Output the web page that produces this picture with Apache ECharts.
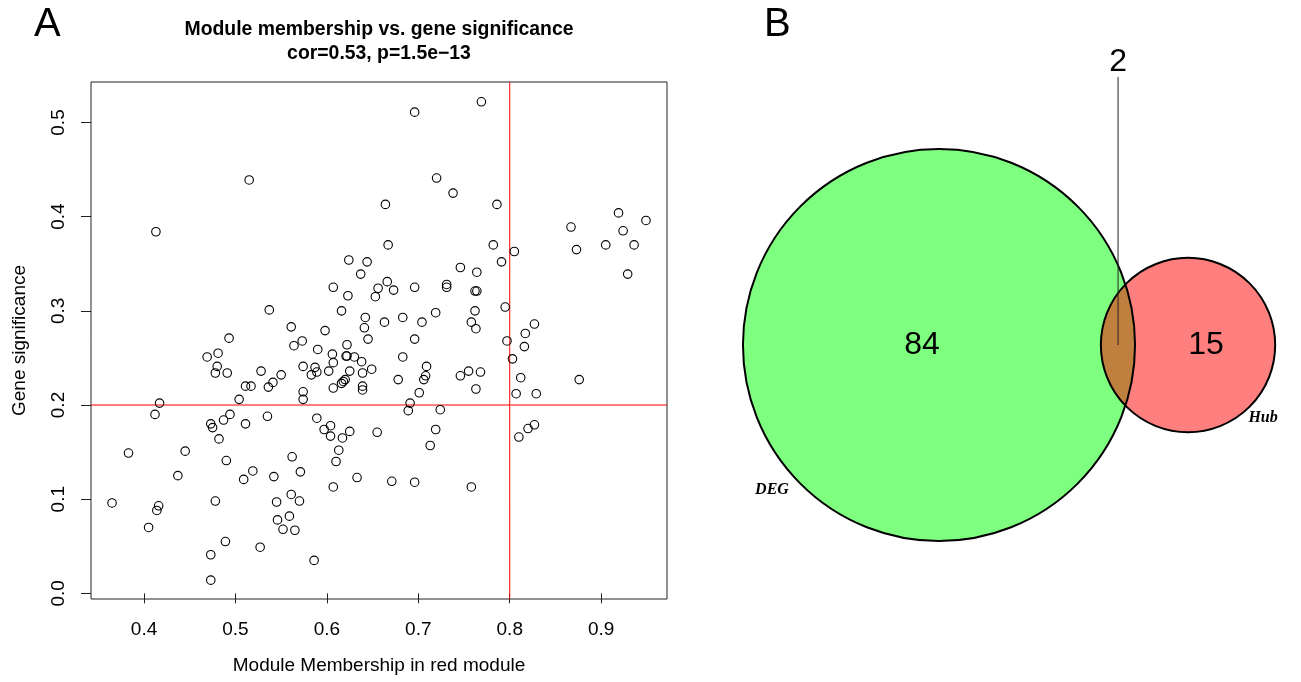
<!DOCTYPE html>
<html>
<head>
<meta charset="utf-8">
<script src="https://cdn.jsdelivr.net/npm/echarts@6/dist/echarts.min.js"></script>
<style>
  html, body { margin: 0; padding: 0; background: #fff; }
  #main { width: 1301px; height: 682px; }
</style>
</head>
<body>
<div id="main"></div>
<script>
// module membership (x) and gene significance (y) of each gene
var mm = [0.515,0.413,0.537,0.561,0.493,0.769,0.696,0.720,0.738,0.664,
          0.667,0.624,0.644,0.637,0.746,0.764,0.607,0.623,0.656,0.653,
          0.666,0.673,0.696,0.731,0.731,0.762,0.764,0.616,0.642,0.641,
          0.663,0.683,0.704,0.719,0.762,0.758,0.763,0.598,0.573,0.645,
          0.696,0.786,0.867,0.919,0.949,0.924,0.782,0.805,0.791,0.873,
          0.905,0.936,0.929,0.795,0.827,0.817,0.797,0.469,0.481,0.480,
          0.478,0.491,0.528,0.550,0.511,0.517,0.536,0.541,0.504,0.417,
          0.412,0.473,0.475,0.487,0.494,0.511,0.535,0.482,0.383,0.445,
          0.490,0.437,0.519,0.509,0.542,0.365,0.416,0.414,0.478,0.545,
          0.405,0.546,0.552,0.489,0.527,0.473,0.473,0.559,0.561,0.562,
          0.564,0.590,0.606,0.622,0.621,0.622,0.630,0.607,0.638,0.683,
          0.574,0.587,0.589,0.583,0.602,0.625,0.639,0.649,0.709,0.708,
          0.706,0.746,0.755,0.768,0.678,0.620,0.618,0.616,0.607,0.639,
          0.639,0.701,0.763,0.574,0.574,0.691,0.689,0.724,0.589,0.597,
          0.604,0.604,0.617,0.625,0.655,0.719,0.713,0.613,0.610,0.571,
          0.633,0.671,0.696,0.607,0.758,0.570,0.565,0.586,0.816,0.803,
          0.812,0.876,0.807,0.829,0.827,0.820,0.810];

var gs = [0.439,0.384,0.301,0.283,0.271,0.522,0.511,0.441,0.425,0.413,
          0.370,0.354,0.352,0.339,0.346,0.341,0.325,0.316,0.324,0.315,
          0.331,0.322,0.325,0.328,0.325,0.321,0.321,0.300,0.293,0.282,
          0.288,0.293,0.288,0.298,0.300,0.288,0.281,0.279,0.268,0.270,
          0.270,0.413,0.389,0.404,0.396,0.385,0.370,0.363,0.352,0.365,
          0.370,0.370,0.339,0.304,0.286,0.276,0.268,0.251,0.255,0.241,
          0.234,0.234,0.236,0.232,0.220,0.220,0.219,0.224,0.206,0.202,
          0.190,0.180,0.176,0.184,0.190,0.180,0.188,0.164,0.149,0.151,
          0.141,0.125,0.130,0.121,0.124,0.096,0.093,0.088,0.098,0.097,
          0.070,0.078,0.068,0.055,0.049,0.041,0.014,0.082,0.105,0.145,
          0.263,0.259,0.254,0.264,0.252,0.252,0.251,0.245,0.246,0.251,
          0.241,0.240,0.235,0.232,0.236,0.236,0.234,0.238,0.241,0.231,
          0.227,0.231,0.236,0.235,0.227,0.227,0.225,0.223,0.218,0.220,
          0.216,0.213,0.217,0.214,0.206,0.202,0.194,0.195,0.186,0.174,
          0.178,0.167,0.165,0.172,0.171,0.174,0.157,0.152,0.140,0.129,
          0.123,0.119,0.118,0.113,0.113,0.098,0.067,0.035,0.262,0.249,
          0.229,0.227,0.212,0.212,0.179,0.175,0.166];

var xTicks = [0.4, 0.5, 0.6, 0.7, 0.8, 0.9];
var yTicks = [0.0, 0.1, 0.2, 0.3, 0.4, 0.5];
var xMin = 0.342, xMax = 0.972;
var yMin = -0.006, yMax = 0.543;
var mmCut = 0.8;   // red vertical line
var gsCut = 0.2;   // red horizontal line

// venn: set sizes, circle centres (radius = sqrt(size))
var vennNames = ['DEG', 'Hub'];
var vennSizes = [86, 17];
var vennCx = [0, 11.78];
var vennCy = [0, 0];
var vennColors = ['rgba(0,255,0,0.5)', 'rgba(255,0,0,0.5)'];
// region counts and where they are written
var countText = ['84', '15', '2'];
var countX = [-0.80, 12.63, 8.47];
var countY = [0, 0, 13.39];
var nameX = [-7.90, 15.33];
var nameY = [-6.86, -3.45];
var leaderX = 8.47;
var leaderY = [12.68, 0];

var pts = [];
for (var i = 0; i < mm.length; i++) {
    pts.push([mm[i], gs[i]]);
}

// segments as [x1, y1, x2, y2]
var cutLines = [
    [mmCut, yMin, mmCut, yMax],
    [xMin, gsCut, xMax, gsCut]
];
var leader = [[leaderX, leaderY[0], leaderX, leaderY[1]]];

var circles = [];
for (var k = 0; k < vennSizes.length; k++) {
    circles.push([vennCx[k], vennCy[k], Math.sqrt(vennSizes[k]), k]);
}

var countPts = [];
for (var c = 0; c < countText.length; c++) {
    countPts.push([countX[c], countY[c]]);
}
var namePts = [];
for (var n = 0; n < vennNames.length; n++) {
    namePts.push([nameX[n], nameY[n]]);
}

var font = 'Liberation Sans, Arial, sans-serif';
var chart = echarts.init(document.getElementById('main'));

// draws a venn circle: filled (outline=false) or just its border
function vennCircle(outline) {
    return function (params, api) {
        var p = api.coord([api.value(0), api.value(1)]);
        var r = api.size([api.value(2), 0])[0];
        return {
            type: 'circle',
            shape: {cx: p[0], cy: p[1], r: r},
            style: outline ? {fill: 'none', stroke: '#000', lineWidth: 2}
                           : {fill: vennColors[api.value(3)], stroke: 'none'}
        };
    };
}

// straight segment between two data points
function segment(color) {
    return function (params, api) {
        var a = api.coord([api.value(0), api.value(1)]);
        var b = api.coord([api.value(2), api.value(3)]);
        return {
            type: 'line',
            shape: {x1: a[0], y1: a[1], x2: b[0], y2: b[1]},
            style: {stroke: color, lineWidth: 1, fill: 'none'}
        };
    };
}

// text (texts[dataIndex]) written at a data point
function textAt(texts, fontStr) {
    return function (params, api) {
        var p = api.coord([api.value(0), api.value(1)]);
        return {
            type: 'text',
            x: p[0], y: p[1],
            style: {
                text: texts[params.dataIndex],
                font: fontStr,
                fill: '#000', align: 'center', verticalAlign: 'middle'
            }
        };
    };
}

var option = {
    backgroundColor: '#fff',
    animation: false,
    textStyle: {fontFamily: font},
    graphic: [
        {type: 'text', left: 34, top: 5, style: {text: 'A', font: '40px ' + font, fill: '#000'}},
        {type: 'text', left: 764, top: 5, style: {text: 'B', font: '40px ' + font, fill: '#000'}},
        {type: 'text', x: 379, y: 30, style: {text: 'Module membership vs. gene significance',
            font: 'bold 19.4px ' + font, fill: '#000', align: 'center', verticalAlign: 'middle'}},
        {type: 'text', x: 379, y: 54, style: {text: 'cor=0.53, p=1.5e\u221213',
            font: 'bold 19.4px ' + font, fill: '#000', align: 'center', verticalAlign: 'middle'}}
    ],
    grid: [
        {left: 91, top: 82, width: 576, height: 517, show: true,
         borderColor: '#222', borderWidth: 1, backgroundColor: 'transparent'},
        {left: 700, top: 0, width: 600, height: 682}
    ],
    xAxis: [
        {
            type: 'value', gridIndex: 0, min: xMin, max: xMax,
            name: 'Module Membership in red module', nameLocation: 'middle', nameGap: 57,
            nameTextStyle: {fontSize: 19, color: '#000'},
            axisLine: {show: false},
            splitLine: {show: false},
            axisTick: {show: true, inside: false, length: 10, customValues: xTicks,
                       lineStyle: {color: '#222'}},
            axisLabel: {fontSize: 19, color: '#000', margin: 21, customValues: xTicks,
                        formatter: function (v) { return v.toFixed(1); }}
        },
        {type: 'value', gridIndex: 1, min: -11.306, max: 17.077, show: false}
    ],
    yAxis: [
        {
            type: 'value', gridIndex: 0, min: yMin, max: yMax,
            name: 'Gene significance', nameLocation: 'middle', nameGap: 62,
            nameTextStyle: {fontSize: 19, color: '#000'},
            axisLine: {show: false},
            splitLine: {show: false},
            axisTick: {show: true, inside: false, length: 10, customValues: yTicks,
                       lineStyle: {color: '#222'}},
            axisLabel: {fontSize: 19, color: '#000', margin: 23, rotate: 90, customValues: yTicks,
                        formatter: function (v) { return v.toFixed(1); }}
        },
        {type: 'value', gridIndex: 1, min: -15.94, max: 16.32, show: false}
    ],
    series: [
        {
            type: 'scatter',
            xAxisIndex: 0, yAxisIndex: 0,
            symbol: 'circle',
            symbolSize: 8.5,
            itemStyle: {color: 'rgba(255,255,255,0)', borderColor: '#000', borderWidth: 1.1, opacity: 1},
            data: pts
        },
        {
            // red cut-off lines (abline)
            type: 'custom',
            xAxisIndex: 0, yAxisIndex: 0,
            silent: true,
            clip: true,
            data: cutLines,
            renderItem: segment('rgb(255,0,0)')
        },
        {
            type: 'custom',
            xAxisIndex: 1, yAxisIndex: 1,
            data: circles,
            renderItem: vennCircle(false)
        },
        {
            type: 'custom',
            xAxisIndex: 1, yAxisIndex: 1,
            data: circles,
            renderItem: vennCircle(true)
        },
        {
            type: 'custom',
            xAxisIndex: 1, yAxisIndex: 1,
            data: leader,
            renderItem: segment('#222')
        },
        {
            type: 'custom',
            xAxisIndex: 1, yAxisIndex: 1,
            data: countPts,
            renderItem: textAt(countText, '32px ' + font)
        },
        {
            type: 'custom',
            xAxisIndex: 1, yAxisIndex: 1,
            data: namePts,
            renderItem: textAt(vennNames, 'italic bold 16px Liberation Serif, Times New Roman, serif')
        }
    ]
};

chart.setOption(option);
</script>
</body>
</html>
